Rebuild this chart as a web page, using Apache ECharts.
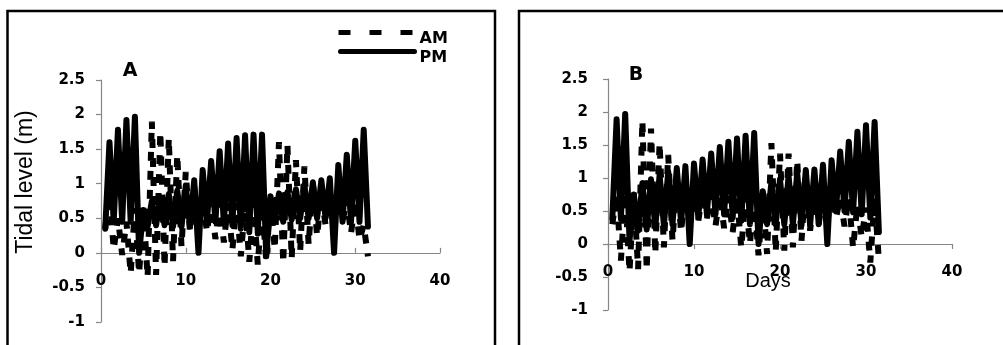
<!DOCTYPE html>
<html>
<head>
<meta charset="utf-8">
<script src="https://cdn.jsdelivr.net/npm/echarts@6/dist/echarts.min.js"></script>
<style>
  html, body { margin: 0; padding: 0; background: #fff; }
  #chart { width: 1003px; height: 345px; }
</style>
</head>
<body>
<div id="chart"></div>
<script>
// day numbers; each day has a high reading (at the day) and a low reading half a day later
const days = [1, 2, 3, 4, 5, 6, 7, 8, 9, 10, 11, 12, 13, 14, 15, 16, 17, 18, 19, 20,
  21, 22, 23, 24, 25, 26, 27, 28, 29, 30, 31];

// panel A (m). lows: first value is before day 1, then one after each day
const pmHighA = [1.60, 1.78, 1.92, 1.97, 0.62, 0.75, 0.80, 0.85, 0.90, 0.97, 1.05, 1.20, 1.33, 1.47, 1.58, 1.66,
  1.70, 1.71, 1.71, 0.82, 0.86, 0.88, 0.92, 0.98, 1.02, 1.05, 1.08, 1.27, 1.42, 1.62, 1.78];
const pmLowA = [0.35, 0.45, 0.45, 0.45, 0.00, 0.38, 0.40, 0.40, 0.38, 0.38, 0.38, 0.00, 0.45, 0.45, 0.42, 0.40,
  0.35, 0.30, 0.28, -0.05, 0.45, 0.45, 0.48, 0.50, 0.50, 0.50, 0.50, 0.00, 0.45, 0.45, 0.45, 0.38];
const amHighA = [0.85, 0.50, 0.45, 0.65, 0.65, 1.90, 1.75, 1.66, 1.42, 1.17, 0.95, 0.80, 0.75, 0.72, 0.72, 0.72,
  0.72, 0.72, 0.70, 0.80, 1.60, 1.56, 1.34, 1.25, 1.02, 0.85, 0.80, 0.80, 0.78, 0.75, 0.40];
const amLowA = [0.35, 0.05, -0.03, -0.30, -0.30, -0.35, -0.32, -0.20, -0.12, 0.09, 0.30, 0.35, 0.30, 0.20, 0.15, 0.04,
  -0.05, -0.13, -0.17, -0.12, 0.05, -0.15, -0.08, 0.02, 0.12, 0.24, 0.40, 0.45, 0.45, 0.28, 0.19, -0.05];

// panel B (m)
const pmHighB = [1.89, 1.97, 0.75, 0.92, 0.98, 1.05, 1.10, 1.15, 1.18, 1.22, 1.28, 1.37, 1.47, 1.55, 1.60, 1.64,
  1.68, 0.80, 0.93, 0.98, 1.03, 1.08, 1.12, 1.13, 1.20, 1.27, 1.40, 1.55, 1.70, 1.80, 1.85];
const pmLowB = [0.38, 0.38, 0.05, 0.20, 0.22, 0.25, 0.28, 0.30, 0.32, 0.00, 0.40, 0.45, 0.45, 0.45, 0.40, 0.35,
  0.30, 0.00, 0.30, 0.30, 0.30, 0.30, 0.28, 0.28, 0.30, 0.00, 0.50, 0.50, 0.48, 0.45, 0.40, 0.18];
const amHighB = [0.75, 0.78, 0.78, 1.87, 1.75, 1.53, 1.35, 1.00, 0.90, 0.85, 0.80, 0.75, 0.75, 0.72, 0.72, 0.72,
  0.70, 0.70, 1.53, 1.37, 1.37, 1.27, 1.00, 0.80, 0.75, 0.75, 0.70, 0.70, 0.60, 0.55, 0.70];
const amLowB = [0.30, -0.25, -0.42, -0.38, -0.40, -0.15, -0.05, 0.05, 0.18, 0.30, 0.35, 0.39, 0.27, 0.24, 0.18, -0.06,
  0.00, -0.17, -0.15, -0.12, -0.10, -0.05, 0.05, 0.20, 0.30, 0.33, 0.39, 0.27, -0.06, 0.10, -0.28, -0.25];

const yTicks = { min: -1, max: 2.5, interval: 0.5 };
const xTicks = { min: 0, max: 40, interval: 10 };

// low (half a day before) then high for each day, plus the last low
function tidePoints(highs, lows) {
  const pts = [];
  days.forEach((d, i) => {
    pts.push([d - 0.5, lows[i]]);
    pts.push([d, highs[i]]);
  });
  pts.push([days[days.length - 1] + 0.5, lows[days.length]]);
  return pts;
}

const W = 1003, H = 345;
const gridA = { left: 101, right: 563, top: 80, bottom: 23 };
const gridB = { left: 608, right: 51, top: 79, bottom: 35 };
// x axis crosses at level 0: lift it from the grid bottom
function zeroLift(g) {
  const h = H - g.top - g.bottom;
  return -h * (0 - yTicks.min) / (yTicks.max - yTicks.min);
}

const tickFont = { fontFamily: 'DejaVu Sans', fontWeight: 'bold', fontSize: 15, color: '#000' };
const axisGrey = '#868686';

function xAxisFor(grid, g, inside) {
  return {
    type: 'value', gridIndex: grid, min: xTicks.min, max: xTicks.max, interval: xTicks.interval,
    position: 'bottom', offset: zeroLift(g),
    axisLine: { onZero: false, lineStyle: { color: axisGrey, width: 1.2 } },
    axisTick: { inside: inside, length: 5, lineStyle: { color: axisGrey, width: 1.2 } },
    axisLabel: Object.assign({ margin: 21 }, tickFont),
    splitLine: { show: false }
  };
}
function yAxisFor(grid, margin) {
  return {
    type: 'value', gridIndex: grid, min: yTicks.min, max: yTicks.max, interval: yTicks.interval,
    axisLine: { show: true, onZero: false, lineStyle: { color: axisGrey, width: 1.2 } },
    axisTick: { show: true, length: 5, lineStyle: { color: axisGrey, width: 1.2 } },
    axisLabel: Object.assign({ margin: margin }, tickFont),
    splitLine: { show: false }
  };
}

const amStyle = { color: '#000', width: 6, type: [9, 10], cap: 'butt', join: 'bevel' };
const pmStyle = { color: '#000', width: 6, cap: 'round', join: 'round' };

function tideSeries(name, grid, pts, style) {
  return {
    name: name, type: 'line', xAxisIndex: grid, yAxisIndex: grid, data: pts,
    symbol: 'none', showSymbol: false, lineStyle: style, itemStyle: { color: '#000' },
    emphasis: { disabled: true }, silent: true
  };
}

const legendText = {
  fontFamily: 'DejaVu Sans', fontWeight: 'bold', fontSize: 16, color: '#000',
  rich: { t: { fontFamily: 'DejaVu Sans', fontWeight: 'bold', fontSize: 16, color: '#000', padding: [12, 0, 0, 0] } }
};

const chart = echarts.init(document.getElementById('chart'), null, { renderer: 'canvas' });
chart.setOption({
  animation: false,
  backgroundColor: '#fff',
  grid: [
    Object.assign({ containLabel: false, outerBoundsMode: 'none' }, gridA),
    Object.assign({ containLabel: false, outerBoundsMode: 'none' }, gridB)
  ],
  xAxis: [xAxisFor(0, gridA, true), xAxisFor(1, gridB, false)],
  yAxis: [yAxisFor(0, 16), yAxisFor(1, 20)],
  legend: [
    {
      data: [{ name: 'AM', lineStyle: { type: [12, 19], width: 5, cap: 'butt' } }],
      left: 336, top: 27, padding: 0, itemWidth: 76, itemHeight: 14, formatter: '{t|{name}}',
      itemStyle: { opacity: 0 }, selectedMode: false, textStyle: legendText
    },
    {
      data: [{ name: 'PM', lineStyle: { width: 5, cap: 'round' } }],
      left: 338, top: 46, padding: 0, itemWidth: 74, itemHeight: 14, formatter: '{t|{name}}',
      itemStyle: { opacity: 0 }, selectedMode: false, textStyle: legendText
    }
  ],
  series: [
    tideSeries('AM', 0, tidePoints(amHighA, amLowA), amStyle),
    tideSeries('PM', 0, tidePoints(pmHighA, pmLowA), pmStyle),
    tideSeries('AM', 1, tidePoints(amHighB, amLowB), amStyle),
    tideSeries('PM', 1, tidePoints(pmHighB, pmLowB), pmStyle)
  ],
  graphic: [
    { type: 'rect', silent: true, shape: { x: 7.5, y: 11, width: 487.5, height: 400 },
      style: { fill: 'none', stroke: '#000', lineWidth: 2.5 } },
    { type: 'rect', silent: true, shape: { x: 519, y: 11, width: 500, height: 400 },
      style: { fill: 'none', stroke: '#000', lineWidth: 2.5 } },
    { type: 'text', x: 130, y: 71, style: { text: 'A', fontFamily: 'DejaVu Sans', fontWeight: 'bold', fontSize: 19,
      fill: '#000', align: 'center', verticalAlign: 'middle' } },
    { type: 'text', x: 636, y: 75, style: { text: 'B', fontFamily: 'DejaVu Sans', fontWeight: 'bold', fontSize: 19,
      fill: '#000', align: 'center', verticalAlign: 'middle' } },
    { type: 'text', x: 26, y: 182, rotation: Math.PI / 2, style: { text: 'Tidal level (m)', fontFamily: 'Liberation Sans',
      fontSize: 23, fill: '#000', align: 'center', verticalAlign: 'middle' } },
    { type: 'text', x: 768, y: 281, style: { text: 'Days', fontFamily: 'Liberation Sans', fontSize: 20,
      fill: '#000', align: 'center', verticalAlign: 'middle' } }
  ]
});
</script>
</body>
</html>
